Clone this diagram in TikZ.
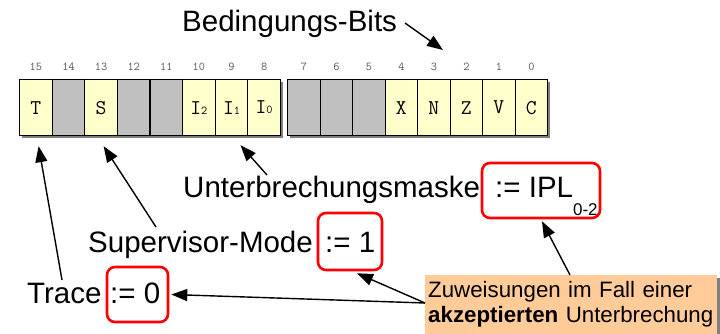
\documentclass[tikz,border=0pt]{standalone}
\usepackage{fontspec}
\setmainfont{Liberation Sans}
\usetikzlibrary{arrows.meta,calc,shadows}
\definecolor{cellyellow}{RGB}{255,255,204}
\definecolor{cellgray}{RGB}{192,192,192}
\definecolor{notebg}{RGB}{255,204,153}
\definecolor{shadowgray}{RGB}{128,128,128}
\definecolor{bitnum}{RGB}{85,85,85}
\tikzset{
  ybit/.style={draw=black, line width=1.2pt, fill=cellyellow, minimum width=32.6pt,
    minimum height=56pt, inner sep=0pt, anchor=north west,
    font=\ttfamily\fontsize{21}{21}\selectfont},
  gbit/.style={ybit, fill=cellgray},
  bitno/.style={font=\ttfamily\fontsize{12}{12}\selectfont, text=bitnum, inner sep=0pt},
  lbl/.style={font=\fontsize{29.5}{30}\selectfont, inner sep=0pt, anchor=base west},
  redbox/.style={draw=red, line width=2.6pt, rounded corners=8pt, inner sep=0pt},
  arr/.style={line width=1.4pt, -{Triangle[length=16pt,width=12pt]}},
  note/.style={fill=notebg, anchor=north west, inner xsep=3pt, inner ysep=6.5pt,
    text width=286pt, align=left, font=\fontsize{22.3}{25}\selectfont,
    drop shadow={shadow xshift=3pt, shadow yshift=-3pt, fill=shadowgray, opacity=1}}
}
\newcommand{\smallsub}[1]{{\fontsize{12}{12}\selectfont #1}}
\begin{document}
\begin{tikzpicture}[x=1pt,y=-1pt]
\useasboundingbox (0,0) rectangle (720,334);
% register shadows
\fill[shadowgray] (22,82) rectangle (283,138);
\fill[shadowgray] (290,82) rectangle (550,138);
% left register (bits 15..8)
\node[ybit] (c15) at (19.0,79) {T};
\node[gbit] (c14) at (51.6,79) {};
\node[ybit] (c13) at (84.2,79) {S};
\node[gbit] (c12) at (116.8,79) {};
\node[gbit] (c11) at (149.4,79) {};
\node[ybit] (c10) at (182.0,79) {I\smallsub{2}};
\node[ybit] (c9)  at (214.6,79) {I\smallsub{1}};
\node[ybit] (c8)  at (247.2,79) {I\smallsub{0}};
% right register (bits 7..0)
\node[gbit] (c7) at (287.0,79) {};
\node[gbit] (c6) at (319.5,79) {};
\node[gbit] (c5) at (352.0,79) {};
\node[ybit] (c4) at (384.5,79) {X};
\node[ybit] (c3) at (417.0,79) {N};
\node[ybit] (c2) at (449.5,79) {Z};
\node[ybit] (c1) at (482.0,79) {V};
\node[ybit] (c0) at (514.5,79) {C};
% bit numbers
\foreach \b in {15,14,13,12,11,10,9,8,7,6,5,4,3,2,1,0}{
  \node[bitno] (n\b) at ($(c\b.north)+(0,-12)$) {\b};
}
% labels
\node[lbl] (bed) at (182,32) {Bedingungs-Bits};
\node[lbl] (um) at (183,197) {Unterbrechungsmaske};
\node[lbl] (umval) at (495,197) {:= IPL\raisebox{-18pt}{\fontsize{17}{17}\selectfont 0-2}};
\node[lbl] (sm) at (88,252) {Supervisor-Mode};
\node[lbl] (smval) at (325,252) {:= 1};
\node[lbl] (tr) at (27,303) {Trace};
\node[lbl] (trval) at (110,303) {:= 0};
% red boxes
\node[redbox, minimum width=118pt, minimum height=55pt] (iplbox) at (541,190.5) {};
\node[redbox, minimum width=64pt, minimum height=57pt] (smbox) at (350,241.5) {};
\node[redbox, minimum width=61pt, minimum height=55pt] (trbox) at (137.5,294.5) {};
% note
\node[note] (note) at (425,275) {Zuweisungen im Fall einer\\\textbf{akzeptierten} Unterbrechung};
% free ends
\coordinate (bedA) at (405,23);
\coordinate (bedB) at (443,50);
\coordinate (umA) at (267,175);
\coordinate (smA) at (156,227);
\coordinate (trA) at (62,280);
\coordinate (noteL) at ($(note.north west)+(0,28)$);
\coordinate (noteT) at ($(note.north west)+(145,0)$);
% arrows
\draw[arr] (bedA) -- (bedB);
\draw[arr] (umA) -- ($(c9.south)+(9,9)$);
\draw[arr] (smA) -- ($(c13.south)+(2.5,10)$);
\draw[arr] (trA) -- ($(c15.south)+(2.7,10)$);
\draw[arr] (noteL) -- ($(trbox.east)+(2,0)$);
\draw[arr] (noteL) -- ($(smbox.south)+(7,2)$);
\draw[arr] (noteT) -- ($(iplbox.south)+(1,2)$);
\end{tikzpicture}
\end{document}
